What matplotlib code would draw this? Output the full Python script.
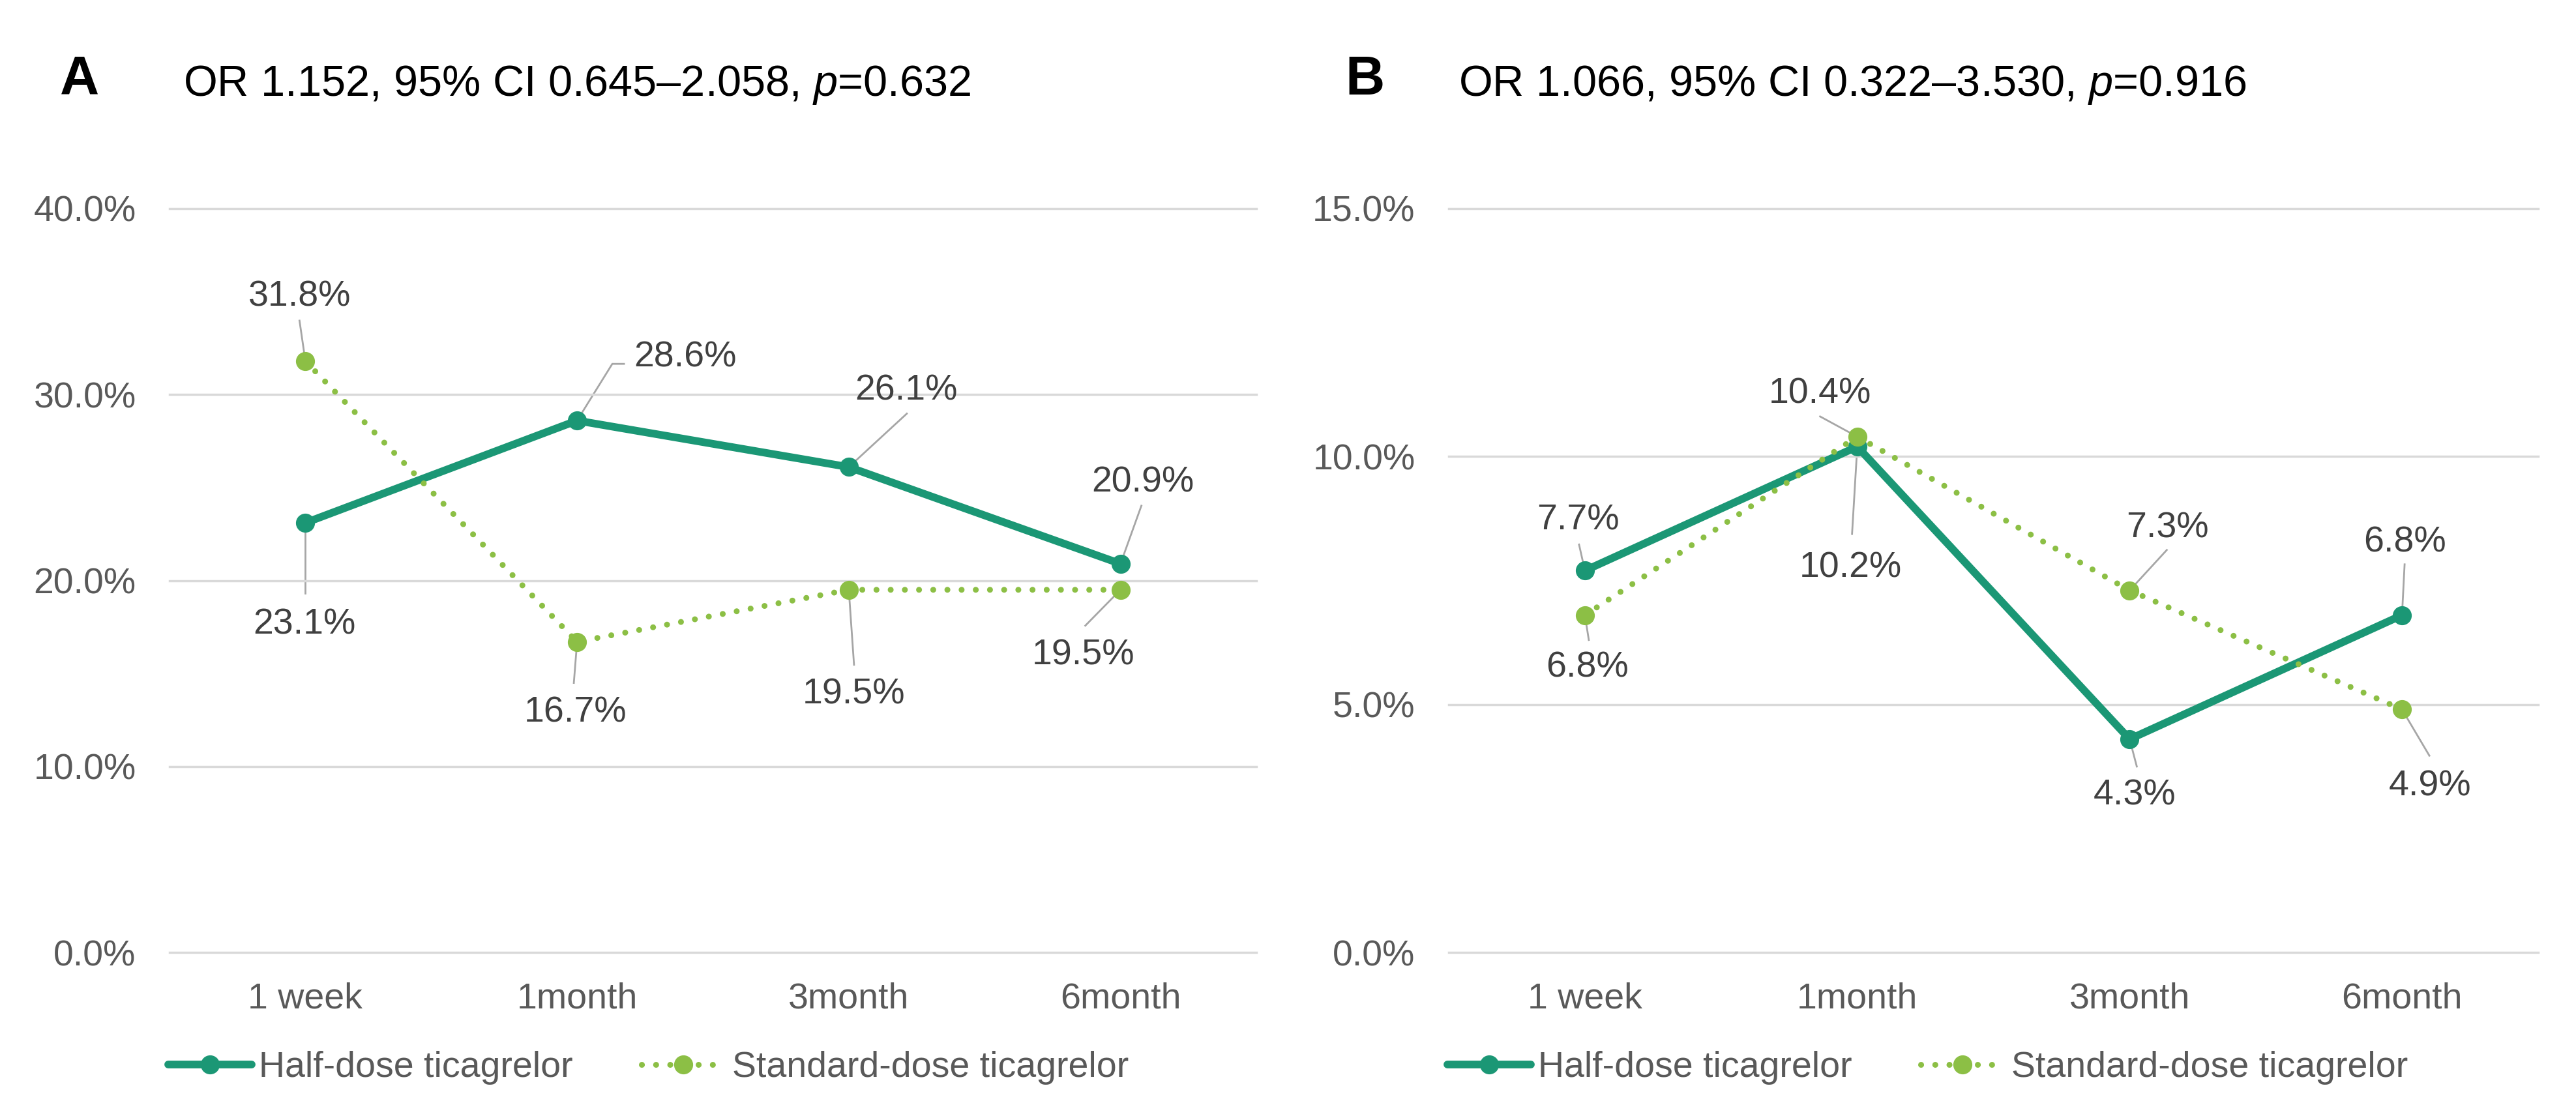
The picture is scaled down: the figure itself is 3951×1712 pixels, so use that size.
import matplotlib
matplotlib.use("Agg")
import matplotlib.pyplot as plt
from matplotlib.lines import Line2D
from matplotlib.transforms import IdentityTransform

plt.rcParams['font.family'] = ['Liberation Sans', 'DejaVu Sans']
plt.rcParams['mathtext.fontset'] = 'custom'
plt.rcParams['mathtext.rm'] = 'Liberation Sans'
plt.rcParams['mathtext.it'] = 'Liberation Sans:italic'

# ---------------- data ----------------
categories = ["1 week", "1month", "3month", "6month"]
series_names = ["Half-dose ticagrelor", "Standard-dose ticagrelor"]

a_half = [23.1, 28.6, 26.1, 20.9]
a_std = [31.8, 16.7, 19.5, 19.5]
b_half = [7.7, 10.2, 4.3, 6.8]
b_std = [6.8, 10.4, 7.3, 4.9]

a_yticks = [0, 10, 20, 30, 40]
b_yticks = [0, 5, 10, 15]

a_letter = "A"
b_letter = "B"
a_title = "OR 1.152, 95% CI 0.645\u20132.058, $p$=0.632"
b_title = "OR 1.066, 95% CI 0.322\u20133.530, $p$=0.916"

# ------------- layout (pixel offsets, y up) -------------
# label: (dx, dy_baseline); leader: list of offsets from the point
a_half_lab = [(-1, -170), (166, 83), (88, 103), (34, 110)]
a_half_lead = [[(0, 0), (0, -108)], [(0, 0), (54, 87), (72, 87)],
               [(0, 0), (89, 82)], [(0, 0), (32, 89)]]
a_std_lab = [(-9, 84), (-3, -123), (8, -175), (-57, -115)]
a_std_lead = [[(0, 0), (-9, 62)], [(0, 0), (-5, -63)],
              [(0, 0), (8, -115)], [(0, 0), (-54, -55)]]
b_half_lab = [(-10, 63), (-10, -200), (8, -101), (4, 97)]
b_half_lead = [[(0, 0), (-9, 40)], [(0, 0), (-8, -134)],
               [(0, 0), (11, -42)], [(0, 0), (4, 78)]]
b_std_lab = [(4, -95), (-57, 51), (58, 81), (43, -132)]
b_std_lead = [[(0, 0), (6, -38)], [(0, 0), (-57, 31)],
              [(0, 0), (57, 62)], [(0, 0), (42, -71)]]

W, H = 3951, 1712
C_HALF = '#1b9775'
C_STD = '#8cbf45'
C_GRID = '#d9d9d9'
C_TICK = '#595959'
C_LAB = '#404040'
C_LEAD = '#a6a6a6'
FS = 40

fig = plt.figure(figsize=(W / 100, H / 100), dpi=100)

ax_a = fig.add_axes([260 / W, (H - 1461) / H, 1667 / W, 1141 / H])
ax_b = fig.add_axes([2222 / W, (H - 1461) / H, 1671 / W, 1141 / H])


def draw_panel(ax, half, std, yticks, half_lab, half_lead, std_lab, std_lead):
    x = list(range(len(categories)))
    ax.set_xlim(-0.5, len(categories) - 0.5)
    ax.set_ylim(yticks[0], yticks[-1])
    ax.set_yticks(yticks)
    ax.set_yticklabels([f"{v:.1f}%" for v in yticks])
    ax.set_xticks(x)
    ax.set_xticklabels(categories)
    for s in ax.spines.values():
        s.set_visible(False)
    ax.tick_params(axis='y', length=0, pad=37, labelsize=FS, labelcolor=C_TICK)
    ax.tick_params(axis='x', length=0, pad=33, labelsize=FS, labelcolor=C_TICK)
    ax.yaxis.grid(True, color=C_GRID, lw=2.5, clip_on=False)
    ax.set_axisbelow(True)

    l1, = ax.plot(x, half, color=C_HALF, lw=8.5, marker='o', markersize=20,
                  solid_capstyle='round', solid_joinstyle='round', zorder=3,
                  clip_on=False, label=series_names[0])
    l2, = ax.plot(x, std, color=C_STD, lw=6.5, linestyle=(0, (0.01, 2.4)),
                  dash_capstyle='round', marker='o', markersize=20, zorder=4,
                  clip_on=False, label=series_names[1])

    fig.canvas.draw()
    for vals, labs, leads in ((half, half_lab, half_lead), (std, std_lab, std_lead)):
        for i, v in enumerate(vals):
            px, py = ax.transData.transform((x[i], v))
            xs = [px + o[0] for o in leads[i]]
            ys = [py + o[1] for o in leads[i]]
            fig.add_artist(Line2D(xs, ys, transform=IdentityTransform(),
                                  color=C_LEAD, lw=2, zorder=1.5))
            ax.annotate(f"{v:.1f}%", xy=(x[i], v), xytext=labs[i],
                        textcoords='offset pixels', ha='center', va='baseline',
                        fontsize=FS, color=C_LAB, zorder=5, annotation_clip=False)
    return l1, l2


draw_panel(ax_a, a_half, a_std, a_yticks, a_half_lab, a_half_lead, a_std_lab, a_std_lead)
draw_panel(ax_b, b_half, b_std, b_yticks, b_half_lab, b_half_lead, b_std_lab, b_std_lead)

for ax in (ax_a, ax_b):
    ax.set_zorder(2)
    ax.patch.set_visible(False)

for ax, hx in ((ax_a, 258), (ax_b, 2220)):
    lines = ax.get_lines()
    ax.legend(handles=lines[:2], loc='center left',
              bbox_to_anchor=(hx / W, (H - 1638) / H), bbox_transform=fig.transFigure,
              ncol=2, frameon=False, fontsize=FS, labelcolor=C_TICK,
              borderpad=0, borderaxespad=0, handlelength=2.3, handletextpad=0.2,
              columnspacing=1.9, numpoints=1)

fig.text(92 / W, (H - 145) / H, a_letter, fontsize=60, fontweight='bold',
         ha='left', va='baseline', color='black')
fig.text(281 / W, (H - 147) / H, a_title, fontsize=48, ha='left', va='baseline',
         color='black')
fig.text(2063 / W, (H - 145) / H, b_letter, fontsize=60, fontweight='bold',
         ha='left', va='baseline', color='black')
fig.text(2237 / W, (H - 147) / H, b_title, fontsize=48, ha='left', va='baseline',
         color='black')

fig.savefig("out.png", dpi=100, facecolor='white')
